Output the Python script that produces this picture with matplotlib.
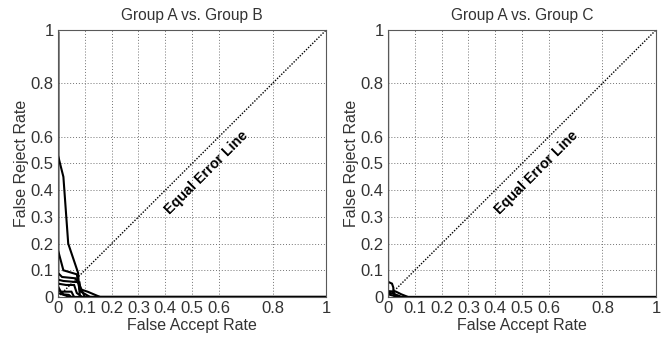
import matplotlib
matplotlib.use('Agg')
import matplotlib.pyplot as plt

plt.rcParams['font.family'] = ['Liberation Sans', 'DejaVu Sans']

ticks = [0, 0.1, 0.2, 0.3, 0.4, 0.5, 0.6, 0.8, 1]
tick_labels = ['0', '0.1', '0.2', '0.3', '0.4', '0.5', '0.6', '0.8', '1']
eer_line = [0, 1]

# group A vs group B: (FAR, FRR) per user
ab_far = [
    [0, 0, 0.02, 0.038, 0.075, 0.078, 0.082, 1],
    [0, 0, 0.02, 0.07, 0.08, 0.11, 0.157, 1],
    [0, 0, 0.015, 0.065, 0.08, 0.1, 1],
    [0, 0, 0.02, 0.08, 0.085, 0.12, 1],
    [0, 0, 0.03, 0.06, 0.07, 0.09, 1],
    [0, 0, 0.01, 0.05, 0.06, 1],
    [0, 0, 0.02, 0.04, 0.05, 1],
    [0, 0, 0.03, 0.04, 1],
]
ab_frr = [
    [0.99, 0.53, 0.45, 0.20, 0.09, 0.04, 0, 0],
    [0.99, 0.175, 0.10, 0.085, 0.03, 0.02, 0, 0],
    [0.99, 0.09, 0.075, 0.07, 0.045, 0, 0],
    [0.99, 0.065, 0.06, 0.055, 0.02, 0, 0],
    [0.99, 0.05, 0.045, 0.045, 0.015, 0, 0],
    [0.99, 0.04, 0.02, 0.02, 0, 0],
    [0.99, 0.03, 0.01, 0.008, 0, 0],
    [0.99, 0.015, 0.005, 0, 0],
]

# group A vs group C
ac_far = [
    [0, 0, 0.015, 0.02, 0.02, 0.03, 1],
    [0, 0, 0.03, 0.05, 0.075, 1],
    [0, 0, 0.01, 0.04, 0.05, 1],
    [0, 0, 0.02, 0.03, 1],
]
ac_frr = [
    [0.99, 0.057, 0.05, 0.035, 0.02, 0, 0],
    [0.99, 0.022, 0.02, 0.01, 0, 0],
    [0.99, 0.015, 0.015, 0.005, 0, 0],
    [0.99, 0.01, 0.005, 0, 0],
]

fig = plt.figure(figsize=(6.67, 3.37), dpi=100)
ax1 = fig.add_axes([0.087, 0.1187, 0.402, 0.7923])
ax2 = fig.add_axes([0.5817, 0.1187, 0.4018, 0.7923])

panels = [(ax1, ab_far, ab_frr, 'Group A vs. Group B'),
          (ax2, ac_far, ac_frr, 'Group A vs. Group C')]

for ax, fars, frrs, title in panels:
    ax.plot(eer_line, eer_line, color='black', linestyle=(0, (1, 1.1)), lw=1.0)
    for far, frr in zip(fars, frrs):
        ax.plot(far, frr, color='black', lw=1.5, solid_joinstyle='miter')
    ax.set_xlim(0, 1)
    ax.set_ylim(0, 1)
    ax.set_xticks(ticks)
    ax.set_yticks(ticks)
    ax.set_xticklabels(tick_labels)
    ax.set_yticklabels(tick_labels)
    ax.tick_params(length=0, labelsize=12, colors='#333333', pad=3)
    ax.grid(True, color='0.45', linestyle=(0, (1, 2)), lw=0.7)
    for s in ax.spines.values():
        s.set_color('0.35')
        s.set_linewidth(0.8)
    ax.set_title(title, fontsize=11.2, color='#333333', pad=7)
    ax.set_xlabel('False Accept Rate', fontsize=11.5, color='#333333', labelpad=1)
    ax.set_ylabel('False Reject Rate', fontsize=11.5, color='#333333', labelpad=1)
    ax.text(0.555, 0.466, 'Equal Error Line', rotation=45, fontsize=10.3,
            fontweight='bold', ha='center', va='center', rotation_mode='anchor')

fig.savefig('out.png', dpi=100)
